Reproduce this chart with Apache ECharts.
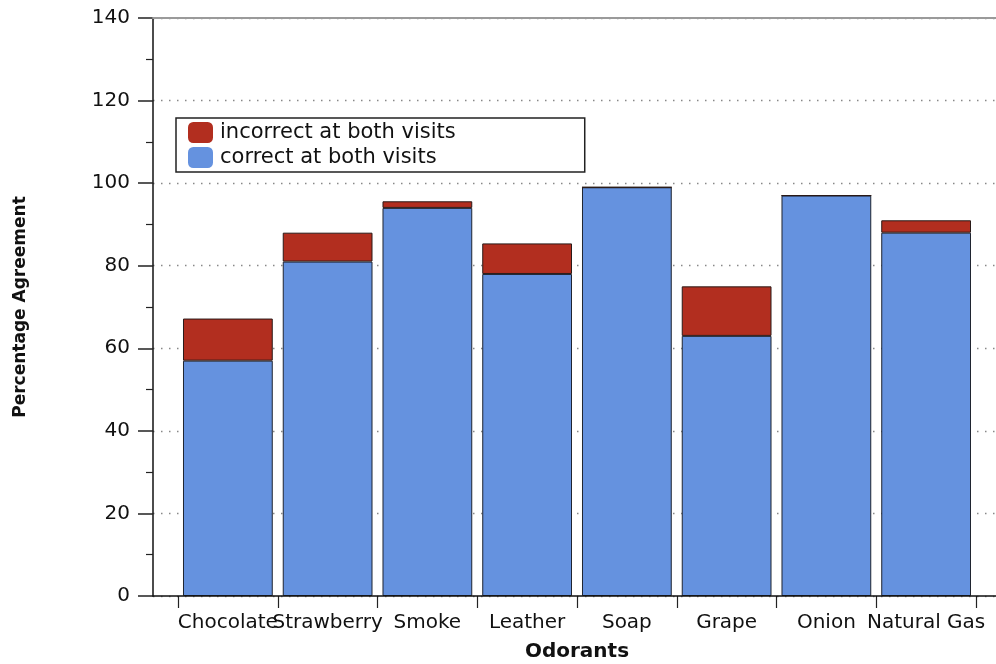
<!DOCTYPE html>
<html>
<head>
<meta charset="utf-8">
<script src="https://cdn.jsdelivr.net/npm/echarts@6/dist/echarts.min.js"></script>
<style>
html,body{margin:0;padding:0;background:#fff;}
#chart{width:996px;height:664px;}
</style>
</head>
<body>
<div id="chart"></div>
<script>
const categories = ['Chocolate','Strawberry','Smoke','Leather','Soap','Grape','Onion','Natural Gas'];
const correctBoth = [57, 81, 94, 78, 99, 63, 97, 88];
const incorrectBoth = [10.2, 7, 1.6, 7.4, 0, 12, 0, 3];
const seriesNames = ['incorrect at both visits', 'correct at both visits'];
const yMin = 0, yMax = 140, yInterval = 20;

const FONT = 'DejaVu Sans';
const chart = echarts.init(document.getElementById('chart'));
chart.setOption({
  animation: false,
  backgroundColor: '#fff',
  grid: [
    {left: 153, right: 0, top: 18, bottom: 68, containLabel: false, outerBoundsMode: 'none'},
    {left: 178, right: 20, top: 18, bottom: 68, containLabel: false, outerBoundsMode: 'none'}
  ],
  legend: {
    data: seriesNames,
    orient: 'vertical',
    left: 176, top: 118,
    padding: [4, 129, 4, 12],
    itemWidth: 25, itemHeight: 21, itemGap: 4,
    icon: 'roundRect',
    borderColor: '#222', borderWidth: 1.5, borderRadius: 0,
    itemStyle: {borderWidth: 0},
    textStyle: {fontFamily: FONT, fontSize: 21, color: '#111', lineHeight: 21, padding: [0,0,0,2]}
  },
  xAxis: [
    {gridIndex: 0, type: 'value', min: 0, max: 1, position: 'bottom', show: true, z: 5,
     axisLine: {show: true, onZero: false, lineStyle: {color: '#111', width: 1.5}},
     axisTick: {show: false}, axisLabel: {show: false}, splitLine: {show: false}},
    {gridIndex: 0, type: 'value', min: 0, max: 1, position: 'top', show: true, z: 5,
     axisLine: {show: true, onZero: false, lineStyle: {color: '#9a9a9a', width: 2}},
     axisTick: {show: false}, axisLabel: {show: false}, splitLine: {show: false}},
    {gridIndex: 1, type: 'category', data: categories, position: 'bottom',
     axisLine: {show: false, onZero: false},
     axisTick: {show: true, length: 12, alignWithLabel: false, lineStyle: {color: '#222', width: 1.2}},
     axisLabel: {interval: 0, hideOverlap: false, margin: 17, fontFamily: FONT, fontSize: 20, color: '#111'},
     name: 'Odorants', nameLocation: 'middle', nameGap: 46,
     nameTextStyle: {fontFamily: FONT, fontSize: 20, fontWeight: 'bold', color: '#111'}}
  ],
  yAxis: [
    {gridIndex: 0, type: 'value', min: yMin, max: yMax, interval: yInterval,
     axisLine: {show: true, lineStyle: {color: '#111', width: 1.5}},
     axisTick: {show: true, inside: false, length: 15, lineStyle: {color: '#222', width: 1.5}},
     minorTick: {show: true, splitNumber: 2, length: 7, lineStyle: {color: '#222', width: 1.2}},
     axisLabel: {margin: 23, fontFamily: FONT, fontSize: 20, color: '#111'},
     splitLine: {show: true, lineStyle: {color: '#888', width: 1.3, type: [1.5, 6.5]}},
     name: 'Percentage Agreement', nameLocation: 'middle', nameGap: 124, nameRotate: 90,
     nameTextStyle: {fontFamily: FONT, fontSize: 17, fontWeight: 'bold', color: '#111'}},
    {gridIndex: 1, type: 'value', min: yMin, max: yMax, interval: yInterval, show: false}
  ],
  series: [
    {name: 'correct at both visits', type: 'bar', stack: 'total', xAxisIndex: 2, yAxisIndex: 1,
     data: correctBoth, barCategoryGap: '10%',
     itemStyle: {color: '#6592DF', borderColor: '#1f2430', borderWidth: 1}},
    {name: 'incorrect at both visits', type: 'bar', stack: 'total', xAxisIndex: 2, yAxisIndex: 1,
     data: incorrectBoth, barCategoryGap: '10%',
     itemStyle: {color: '#B22E1F', borderColor: '#2a1a18', borderWidth: 1}}
  ]
});
</script>
</body>
</html>
